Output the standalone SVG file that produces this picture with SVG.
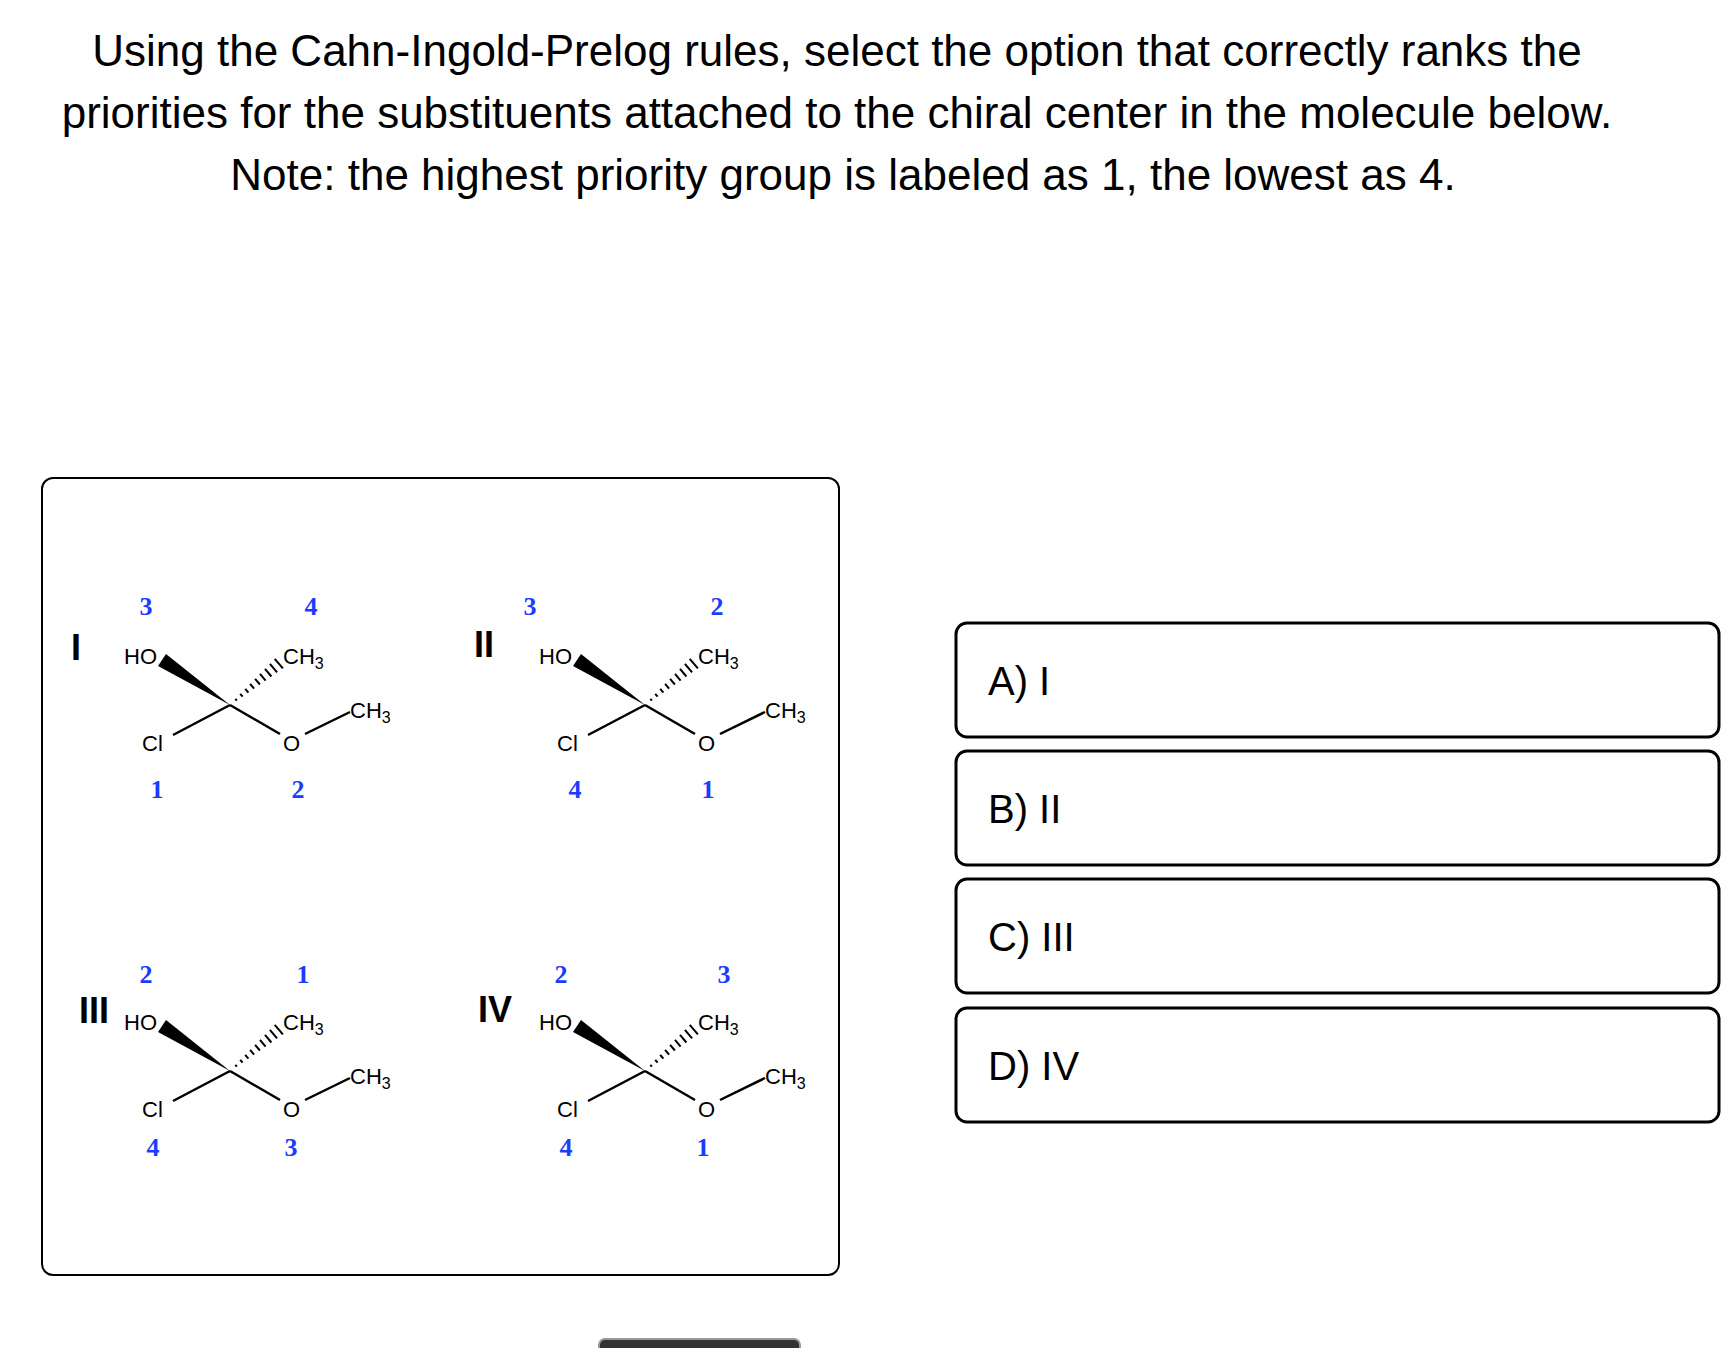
<svg xmlns="http://www.w3.org/2000/svg" width="1734" height="1348" viewBox="0 0 1734 1348">
<style>
.t{font-family:"Liberation Sans",Arial,sans-serif;font-size:44px;fill:#000}
.a{font-family:"Liberation Sans",Arial,sans-serif;font-size:22px;fill:#000}
.s{font-size:16px}
.n{font-family:"Liberation Serif","Times New Roman",serif;font-weight:bold;font-size:26px;fill:#1a3cff;text-anchor:middle}
.r{font-family:"Liberation Sans",Arial,sans-serif;font-weight:bold;font-size:36px;fill:#000;text-anchor:middle}
.b{stroke:#000;stroke-width:2.5;fill:none}
.h{stroke:#000;stroke-width:2}
.opt{fill:#fff;stroke:#000;stroke-width:3}
.ot{font-family:"Liberation Sans",Arial,sans-serif;font-size:40px;fill:#000}
</style>
<defs>
<g id="mol">
<polygon points="230,705 166,654 158,666" fill="#000"/>
<g class="h">
<line x1="236.9" y1="700.7" x2="235.3" y2="698.9"/><line x1="242.6" y1="696.7" x2="240.2" y2="693.9"/><line x1="248.4" y1="692.7" x2="245.2" y2="688.9"/><line x1="254.1" y1="688.6" x2="250.1" y2="683.8"/><line x1="259.9" y1="684.5" x2="255.1" y2="678.9"/><line x1="265.6" y1="680.6" x2="260" y2="673.8"/><line x1="271.4" y1="676.5" x2="265" y2="668.9"/><line x1="277.1" y1="672.4" x2="269.9" y2="663.8"/><line x1="282.9" y1="668.4" x2="274.7" y2="658.8"/>
</g>
<line class="b" x1="230" y1="705" x2="173" y2="735"/>
<line class="b" x1="230" y1="705" x2="280" y2="734"/>
<line class="b" x1="305" y1="734" x2="350" y2="712"/>
<text class="a" x="124" y="664">HO</text>
<text class="a" x="283" y="664">CH<tspan class="s" dy="5">3</tspan></text>
<text class="a" x="350" y="718">CH<tspan class="s" dy="5">3</tspan></text>
<text class="a" x="142" y="751">Cl</text>
<text class="a" x="283" y="751">O</text>
</g>
</defs>
<rect width="1734" height="1348" fill="#fff"/>
<g id="title">
<text class="t" x="837" y="66" text-anchor="middle">Using the Cahn-Ingold-Prelog rules, select the option that correctly ranks the</text>
<text class="t" x="837" y="128" text-anchor="middle">priorities for the substituents attached to the chiral center in the molecule below.</text>
<text class="t" x="843" y="190" text-anchor="middle">Note: the highest priority group is labeled as 1, the lowest as 4.</text>
</g>
<rect x="42" y="478" width="797" height="797" rx="11" fill="#fff" stroke="#000" stroke-width="2"/>
<g id="molI"><use href="#mol"/><text class="r" x="76" y="660">I</text>
<text class="n" x="146" y="615">3</text><text class="n" x="311" y="615">4</text><text class="n" x="157" y="798">1</text><text class="n" x="298" y="798">2</text></g>
<g id="molII"><use href="#mol" transform="translate(415,0)"/><text class="r" x="484" y="657">II</text>
<text class="n" x="530" y="615">3</text><text class="n" x="717" y="615">2</text><text class="n" x="575" y="798">4</text><text class="n" x="708" y="798">1</text></g>
<g id="molIII"><use href="#mol" transform="translate(0,366)"/><text class="r" x="94" y="1023">III</text>
<text class="n" x="146" y="983">2</text><text class="n" x="303" y="983">1</text><text class="n" x="153" y="1156">4</text><text class="n" x="291" y="1156">3</text></g>
<g id="molIV"><use href="#mol" transform="translate(415,366)"/><text class="r" x="495" y="1022">IV</text>
<text class="n" x="561" y="983">2</text><text class="n" x="724" y="983">3</text><text class="n" x="566" y="1156">4</text><text class="n" x="703" y="1156">1</text></g>
<g id="optA"><rect class="opt" x="956" y="623" width="763" height="114" rx="11"/><text class="ot" x="988" y="695">A) I</text></g>
<g id="optB"><rect class="opt" x="956" y="751" width="763" height="114" rx="11"/><text class="ot" x="988" y="823">B) II</text></g>
<g id="optC"><rect class="opt" x="956" y="879" width="763" height="114" rx="11"/><text class="ot" x="988" y="951">C) III</text></g>
<g id="optD"><rect class="opt" x="956" y="1008" width="763" height="114" rx="11"/><text class="ot" x="988" y="1080">D) IV</text></g>
<g id="connectors"></g>
<rect x="599" y="1339" width="201" height="20" rx="6" fill="#333" stroke="#999" stroke-width="2"/>
</svg>
